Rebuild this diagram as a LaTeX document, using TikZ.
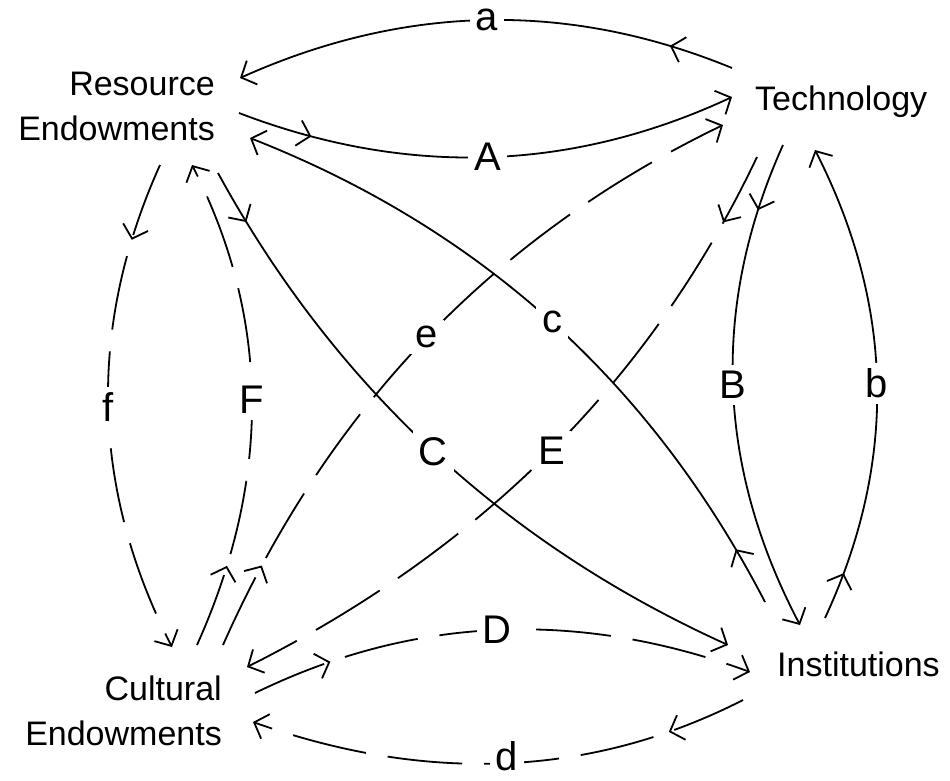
\documentclass[tikz,border=0pt]{standalone}
\usepackage{fontspec}
\setmainfont{Liberation Sans}
\usetikzlibrary{arrows.meta,decorations.markings}
\begin{document}
\begin{tikzpicture}[x=1pt,y=-1pt,
  concept/.style={inner sep=0pt, font=\fontsize{34}{45}\selectfont, align=right},
  conn/.style={line width=1.8pt, -{Straight Barb[length=12pt,width=26pt]}},
  dashconn/.style={conn, dash pattern=on 75pt off 22pt},
  lab/.style={fill=white, inner sep=6pt, font=\fontsize{40}{40}\selectfont},
  midarr/.style={postaction={decorate}, decoration={markings, mark=at position #1 with {\arrow{Straight Barb[length=12pt,width=26pt]}}}},
]
\useasboundingbox (0,0) rectangle (950,780);

\node[concept, anchor=east] (re) at (215,106.5) {Resource\\Endowments};
\node[concept, anchor=base west] (tech) at (755,110) {Technology};
\node[concept, anchor=east] (cult) at (222,711) {Cultural\\Endowments};
\node[concept, anchor=base west] (inst) at (777,676) {Institutions};

% a / A
\draw[conn, midarr=0.13] ([shift={(-23,-42)}]tech.base west) .. controls (569,1) and (405,4) .. ([shift={(25,-28.5)}]re.east) node[lab, pos=0.5] (la) {a};
\draw[conn, midarr=0.15] ([shift={(24,6.5)}]re.east) .. controls (406,177) and (571,172) .. ([shift={(-23,-13)}]tech.base west) node[lab, pos=0.5] (lA) {A};
% b / B
\draw[conn, midarr=0.1] ([shift={(48,-58)}]inst.base west) .. controls (898,461) and (894,305) .. ([shift={(60,40)}]tech.base west) node[lab, pos=0.5] (lb) {b};
\draw[conn, midarr=0.14] ([shift={(28,35)}]tech.base west) .. controls (711,305) and (716,465) .. ([shift={(23,-51)}]inst.base west) node[lab, pos=0.5] (lB) {B};
% c / C
\draw[conn, midarr=0.085] ([shift={(-12,-74)}]inst.base west) .. controls (652,384) and (482,229) .. ([shift={(35,31.5)}]re.east) node[lab, pos=0.5] (lc) {c};
\draw[conn, midarr=0.08] ([shift={(3,66.5)}]re.east) .. controls (335,387) and (505,544) .. ([shift={(-49,-31)}]inst.base west) node[lab, pos=0.5] (lC) {C};
% d / D
\draw[dashconn, midarr=0.16] ([shift={(-34,24)}]inst.base west) .. controls (592,777) and (428,784) .. ([shift={(31,11)}]cult.east) node[lab, pos=0.5, yshift=7pt, inner ysep=1pt] (ld) {d};
\draw[dashconn, midarr=0.16] ([shift={(33,-18)}]cult.east) .. controls (413,616) and (578,609) .. ([shift={(-27,-4)}]inst.base west) node[lab, pos=0.5] (lD) {D};
% e / E
\draw[dashconn, midarr=0.12] ([shift={(1,-66)}]cult.east) .. controls (328,408) and (495,235) .. ([shift={(-32,15)}]tech.base west) node[lab, pos=0.5] (le) {e};
\draw[dashconn, midarr=0.1] ([shift={(2,47)}]tech.base west) .. controls (652,378) and (484,548) .. ([shift={(25,-44)}]cult.east) node[lab, pos=0.5] (lE) {E};
% f / F
\draw[dashconn, midarr=0.16] ([shift={(-55,58.5)}]re.east) .. controls (87,327) and (91,488) .. ([shift={(-50,-64)}]cult.east) node[lab, pos=0.5] (lf) {f};
\draw[dashconn, midarr=0.17] ([shift={(-25,-66)}]cult.east) .. controls (272,478) and (270,318) .. ([shift={(-23,58.5)}]re.east) node[lab, pos=0.5] (lF) {F};
\end{tikzpicture}
\end{document}
